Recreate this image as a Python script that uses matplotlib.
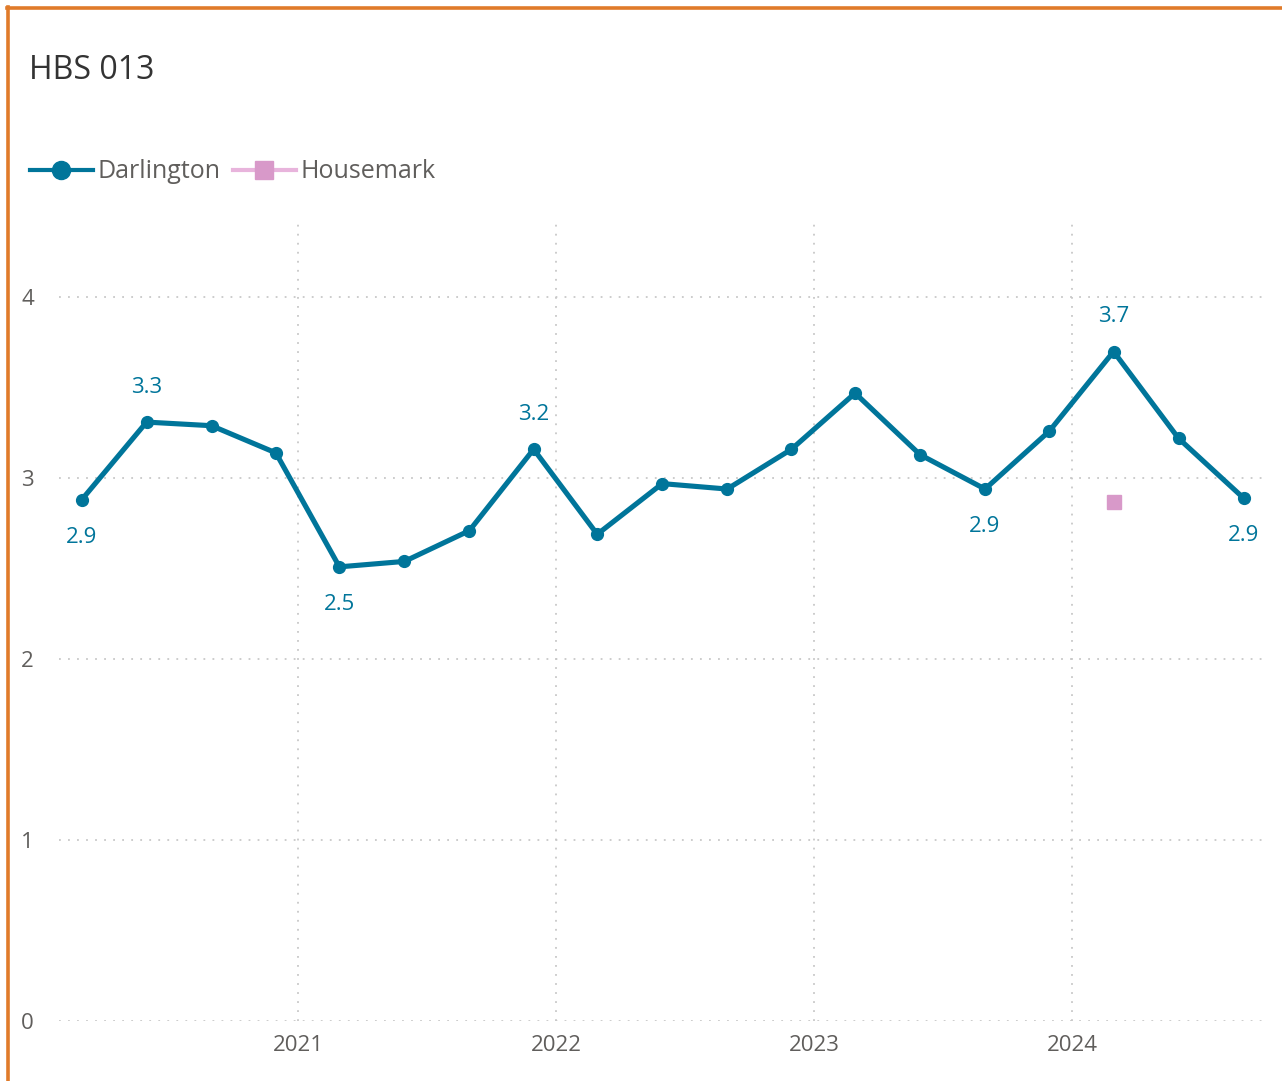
import matplotlib

matplotlib.use("Agg")
import matplotlib.pyplot as plt
import pandas as pd
from matplotlib.lines import Line2D

plt.rcParams["font.family"] = ["Open Sans", "DejaVu Sans"]

# Darlington quarterly values
dates = pd.to_datetime([
    "2020-02-29", "2020-05-31", "2020-08-31", "2020-11-30",
    "2021-02-28", "2021-05-31", "2021-08-31", "2021-11-30",
    "2022-02-28", "2022-05-31", "2022-08-31", "2022-11-30",
    "2023-02-28", "2023-05-31", "2023-08-31", "2023-11-30",
    "2024-02-29", "2024-05-31", "2024-08-31",
])
darlington = [2.88, 3.31, 3.29, 3.14, 2.51, 2.54, 2.71, 3.16, 2.69, 2.97,
              2.94, 3.16, 3.47, 3.13, 2.94, 3.26, 3.70, 3.22, 2.89]

# labelled points: index -> placement
label_idx = [0, 1, 4, 7, 14, 16, 18]
label_pos = ["below", "above", "below", "above", "below", "above", "below"]

housemark_dates = pd.to_datetime(["2024-02-29"])
housemark = [2.87]

year_ticks = pd.to_datetime(["2021-01-01", "2022-01-01", "2023-01-01", "2024-01-01"])
year_labels = ["2021", "2022", "2023", "2024"]

BLUE = "#00759A"
PINK = "#D899C9"
PINK_LIGHT = "#E8B4DC"
GREY = "#605E5C"
ORANGE = "#E07B2A"

fig = plt.figure(figsize=(12.82, 10.81), dpi=100)
ax = fig.add_axes([0.046, 0.0555, 0.940, 0.7415])

ax.plot(dates, darlington, color=BLUE, lw=3.7, marker="o", ms=8.5, zorder=3)
ax.plot(housemark_dates, housemark, color=PINK, lw=0, marker="s", ms=10, zorder=3)

for i, pos in zip(label_idx, label_pos):
    dy = 25 if pos == "above" else -27
    ax.annotate(f"{darlington[i]:.1f}", (dates[i], darlington[i]), xytext=(0, dy),
                textcoords="offset points", ha="center", va="center",
                color=BLUE, fontsize=16)

ax.set_xlim(pd.Timestamp("2020-01-28"), pd.Timestamp("2024-09-29"))
ax.set_ylim(0, 4.43)
ax.set_yticks([0, 1, 2, 3, 4])
ax.set_xticks(year_ticks)
ax.set_xticklabels(year_labels)

for s in ax.spines.values():
    s.set_visible(False)
ax.tick_params(length=0, labelsize=16, colors=GREY, pad=10)
ax.tick_params(axis="y", pad=18)
ax.grid(True, color="#C8C8C8", linestyle=(0, (1, 4)), lw=1.3)
ax.set_axisbelow(True)

fig.text(0.023, 0.935, "HBS 013", fontsize=23, color="#333333", va="center")

handles = [
    Line2D([], [], color=BLUE, lw=3, marker="o", ms=13),
    Line2D([], [], color=PINK_LIGHT, lw=3, marker="s", ms=13, mfc=PINK, mec=PINK),
]
fig.legend(handles, ["Darlington", "Housemark"], loc="center left",
           bbox_to_anchor=(0.006, 0.841), ncol=2, frameon=False, fontsize=18,
           labelcolor=GREY, handlelength=2.5, handletextpad=0.2, columnspacing=0.5)

# orange border (top and left edges)
fig.add_artist(Line2D([7 / 1282, 1], [1 - 8 / 1081, 1 - 8 / 1081], color=ORANGE,
                      lw=2.6, transform=fig.transFigure))
fig.add_artist(Line2D([8 / 1282, 8 / 1282], [1 - 7 / 1081, 0], color=ORANGE,
                      lw=2.6, transform=fig.transFigure))

fig.savefig("out.png", dpi=100)
